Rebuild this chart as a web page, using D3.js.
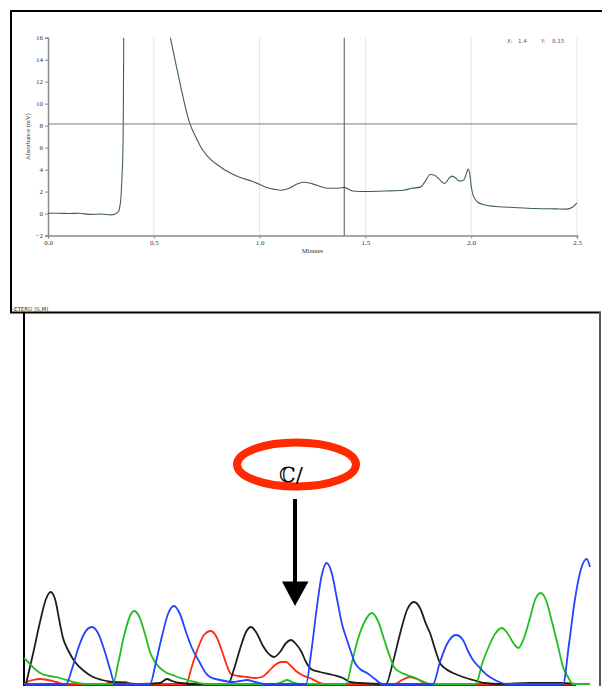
<!DOCTYPE html>
<html><head><meta charset="utf-8">
<script src="https://cdn.jsdelivr.net/npm/d3@7"></script>
<style>body{margin:0;background:#fff}svg{display:block}</style>
</head><body>
<script>
// ---------- Top chromatogram data ----------
const timeMin = [0,0.05,0.1,0.15,0.2,0.25,0.3,0.33,0.338,0.345,0.35,0.353,0.356,0.358,
  null,
  0.575,0.6,0.62,0.67,0.7,0.73,0.77,0.81,0.85,0.9,0.97,1.03,1.07,1.1,1.14,1.18,1.21,1.25,1.32,1.37,1.4,1.44,1.5,1.6,1.68,1.72,1.76,1.785,1.805,1.825,1.845,1.875,1.895,1.91,1.925,1.945,1.965,1.978,1.985,1.993,2.0,2.01,2.03,2.06,2.13,2.2,2.3,2.4,2.45,2.48,2.5];
const absorbance = [0.02,0.03,0.0,0.02,-0.08,-0.05,-0.12,0.1,0.5,1.5,3.5,5,9,16.5,
  null,
  16.5,14,12.2,8.2,6.9,5.8,4.9,4.3,3.8,3.35,2.9,2.4,2.2,2.12,2.3,2.7,2.85,2.7,2.3,2.3,2.38,2.05,2.0,2.05,2.12,2.3,2.4,3.0,3.55,3.5,3.2,2.73,3.2,3.4,3.25,2.95,3.05,3.7,4.05,3.6,2.5,1.6,1.05,0.8,0.62,0.55,0.46,0.42,0.4,0.6,0.97];
const xTicks = [0,0.5,1.0,1.5,2.0,2.5];
const yTicks = [16,14,12,10,8,6,4,2,0,-2];
const cursorX = 1.4, cursorY = 8.15;

// ---------- Bottom sequencing trace data (scan position, signal) ----------
const blackScan = [2,9,16,22,26.7,31,36,39,44,51,60,69,78,88,98,116,136,143,148,156,176,204,210,216,222,227,232,239,246,250,256,262,267,272,277,282,287,296,309,319,326,336,362,369,376,383,390,396,402,406,411,416,422,429,439,449,461,476,506,521,536,551];
const blackSig  = [0,30,62,85,92,85,60,46,34,22,13,7,4,2,1,0,1,5,3,1,0,0,15,35,52,57,52,38,29,27,32,41,44,40,33,22,15,12,9,6,2,1,0,22,50,74,82,76,60,51,35,21,15,11,7,4,1,0,1,1,1,0];
const blueScan  = [0,42,48,54,60,67.7,74,80,86,91,126,132,138,144,150,156,162,168,176,181,186,196,209,216,223,231,241,282,287,292,297,302.7,308,313,318,323,327,331,336,343,351,358,409,416,423,432,439,444,449,456,463,471,483,539,545,551,557,562.7,566];
const blueSig   = [0,0,15,35,50,57,51,35,15,0,0,22,48,70,78,70,52,36,21,12,7,4,2,3,4,2,0,0,30,70,105,121,110,85,60,44,32,21,15,11,5,0,0,22,40,49,44,33,24,16,9,4,0,0,40,85,115,125,117];
const greenScan = [0,6,12,18,26,36,46,54,61,89,94,100,106,110,115,121,126,131,136,143,151,160,171,181,251,258,263,268,276,322,328,334,341,347.7,354,360,366,370,376,383,389,396,406,452,458,465,471,477.7,484,490,494.3,500,506,511,516.7,522,528,534,539,544,549,566];
const greenSig  = [26,20,14,10,8,6,3,1,0,0,20,48,68,73,68,50,32,22,16,11,8,5,2,0,0,2,4,2,0,0,22,45,63,71,63,45,27,17,12,9,7,4,0,0,20,38,50,56,50,40,36,46,66,84,91,84,62,38,17,7,0,0];
const redScan   = [0,3,9,16,24,32,41,81,86,101,108,162,168,174,180,186.7,192,198,203,207,214,223,231,238,244,251,257,262,267,272,278,286,294,300,371,378,386,393,401,408,551];
const redSig    = [0,2,4,5,4,2,0,0,2,2,0,0,18,36,49,53,48,33,18,10,8,7,6,7,12,19,22,22,18,13,9,6,2,0,0,4,7,5,1,0,0];

const traces = [
  {name:"red",   scan:redScan,   sig:redSig,   color:"#ff2a10"},
  {name:"black", scan:blackScan, sig:blackSig, color:"#1e1e1e"},
  {name:"green", scan:greenScan, sig:greenSig, color:"#1fbf1f"},
  {name:"blue",  scan:blueScan,  sig:blueSig,  color:"#2244ff"}
];
const markText = "\u2102/";
const cursorText = {x:"1.4", y:"8.15"};

// ---------- SVG ----------
const W = 602, H = 686;
const svg = d3.select("body").append("svg").attr("width", W).attr("height", H);
svg.append("rect").attr("width", W).attr("height", H).attr("fill", "#fff");

// ---- top panel ----
const x = d3.scaleLinear().domain([0, 2.5]).range([48, 577]);
const y = d3.scaleLinear().domain([-2, 16]).range([235.5, 37.7]);

// grid
svg.append("g").selectAll("line").data(xTicks.filter(d => d > 0)).join("line")
  .attr("x1", d => x(d)).attr("x2", d => x(d)).attr("y1", y(16)).attr("y2", y(-2))
  .attr("stroke", "#e6e6e6").attr("stroke-width", 1);

// axes
const serif = "'Liberation Serif','DejaVu Serif',serif";
const gx = svg.append("g").attr("transform", `translate(0,${y(-2)})`)
  .call(d3.axisBottom(x).tickValues(xTicks).tickFormat(d3.format(".1f")).tickSize(3).tickPadding(2));
const gy = svg.append("g").attr("transform", `translate(${x(0)},0)`)
  .call(d3.axisLeft(y).tickValues(yTicks).tickFormat(d3.format("d")).tickSize(3).tickPadding(2));
[gx, gy].forEach(g => {
  g.select(".domain").attr("stroke", "#8a8a8a").attr("stroke-width", 1.5);
  g.selectAll(".tick line").attr("stroke", "#8a8a8a");
  g.selectAll(".tick text").attr("font-family", serif).attr("font-size", 7).attr("fill", "#333");
});

svg.append("text").attr("x", 312.5).attr("y", 253).attr("text-anchor", "middle")
  .attr("font-family", serif).attr("font-size", 6.5).attr("fill", "#333").text("Minutes");
svg.append("text").attr("transform", `translate(30,${(y(16)+y(-2))/2}) rotate(-90)`)
  .attr("text-anchor", "middle").attr("font-family", serif).attr("font-size", 6.5)
  .attr("fill", "#333").text("Absorbance (mV)");

// clip
svg.append("clipPath").attr("id", "plotClip").append("rect")
  .attr("x", x(0)).attr("y", y(16)).attr("width", x(2.5) - x(0)).attr("height", y(-2) - y(16));

const chromLine = d3.line()
  .defined((d, i) => timeMin[i] !== null)
  .x((d, i) => x(timeMin[i])).y((d, i) => y(Math.min(absorbance[i], 16.3)))
  .curve(d3.curveMonotoneX);
svg.append("path").attr("clip-path", "url(#plotClip)")
  .attr("d", chromLine(timeMin)).attr("fill", "none")
  .attr("stroke", "#3f5f55").attr("stroke-width", 1.1);

// cursor crosshair
svg.append("line").attr("x1", x(0)).attr("x2", x(2.5)).attr("y1", y(cursorY)).attr("y2", y(cursorY))
  .attr("stroke", "#7a7a7a").attr("stroke-width", 1);
svg.append("line").attr("x1", x(cursorX)).attr("x2", x(cursorX)).attr("y1", y(16)).attr("y2", y(-2))
  .attr("stroke", "#555").attr("stroke-width", 1);

const sans = "'DejaVu Sans',Arial,sans-serif";
const ct = svg.append("g").attr("font-family", sans).attr("font-size", 5.5).attr("fill", "#555");
ct.append("text").attr("x", 507).attr("y", 43).text("X:");
ct.append("text").attr("x", 518).attr("y", 43).text(cursorText.x);
ct.append("text").attr("x", 541).attr("y", 43).text("Y:");
ct.append("text").attr("x", 552).attr("y", 43).text(cursorText.y);

// frame top panel
svg.append("path").attr("d", "M11,313 V11 H602").attr("fill", "none").attr("stroke", "#000").attr("stroke-width", 2);
svg.append("line").attr("x1", 10).attr("x2", 601).attr("y1", 312.5).attr("y2", 312.5).attr("stroke", "#000").attr("stroke-width", 2);
svg.append("text").attr("x", 12).attr("y", 310.5).attr("font-family", sans).attr("font-size", 5.5)
  .attr("fill", "#333").text("-ETERO (S,M)");

// ---- bottom panel ----
svg.append("line").attr("x1", 24).attr("x2", 24).attr("y1", 312).attr("y2", 686).attr("stroke", "#000").attr("stroke-width", 2);
svg.append("line").attr("x1", 600).attr("x2", 600).attr("y1", 312).attr("y2", 686).attr("stroke", "#555").attr("stroke-width", 2);

const sx = d3.scaleLinear().domain([0, 576]).range([24, 600]);
const sy = d3.scaleLinear().domain([0, 130]).range([684, 554]);

svg.append("line").attr("x1", sx(0)).attr("x2", sx(552)).attr("y1", 684.5).attr("y2", 684.5)
  .attr("stroke", "#000").attr("stroke-width", 2.5);

traces.forEach(t => {
  const ln = d3.line().x((d, i) => sx(t.scan[i])).y((d, i) => sy(t.sig[i])).curve(d3.curveMonotoneX);
  svg.append("path").attr("d", ln(t.scan)).attr("fill", "none")
    .attr("stroke", t.color).attr("stroke-width", 1.8).attr("stroke-linejoin", "round");
});

// annotation: ellipse, mark text, arrow
svg.append("ellipse").attr("cx", 296.5).attr("cy", 464.5).attr("rx", 59.5).attr("ry", 22)
  .attr("fill", "none").attr("stroke", "#ff2a00").attr("stroke-width", 8);
svg.append("text").attr("x", 291).attr("y", 482).attr("text-anchor", "middle")
  .attr("font-family", "'DejaVu Serif',serif").attr("font-size", 21).attr("fill", "#000").text(markText);
svg.append("line").attr("x1", 295).attr("x2", 295).attr("y1", 499).attr("y2", 584)
  .attr("stroke", "#000").attr("stroke-width", 4);
svg.append("path").attr("d", "M282,581.5 L308.5,581.5 L295,606 Z").attr("fill", "#000");
</script>
</body></html>
